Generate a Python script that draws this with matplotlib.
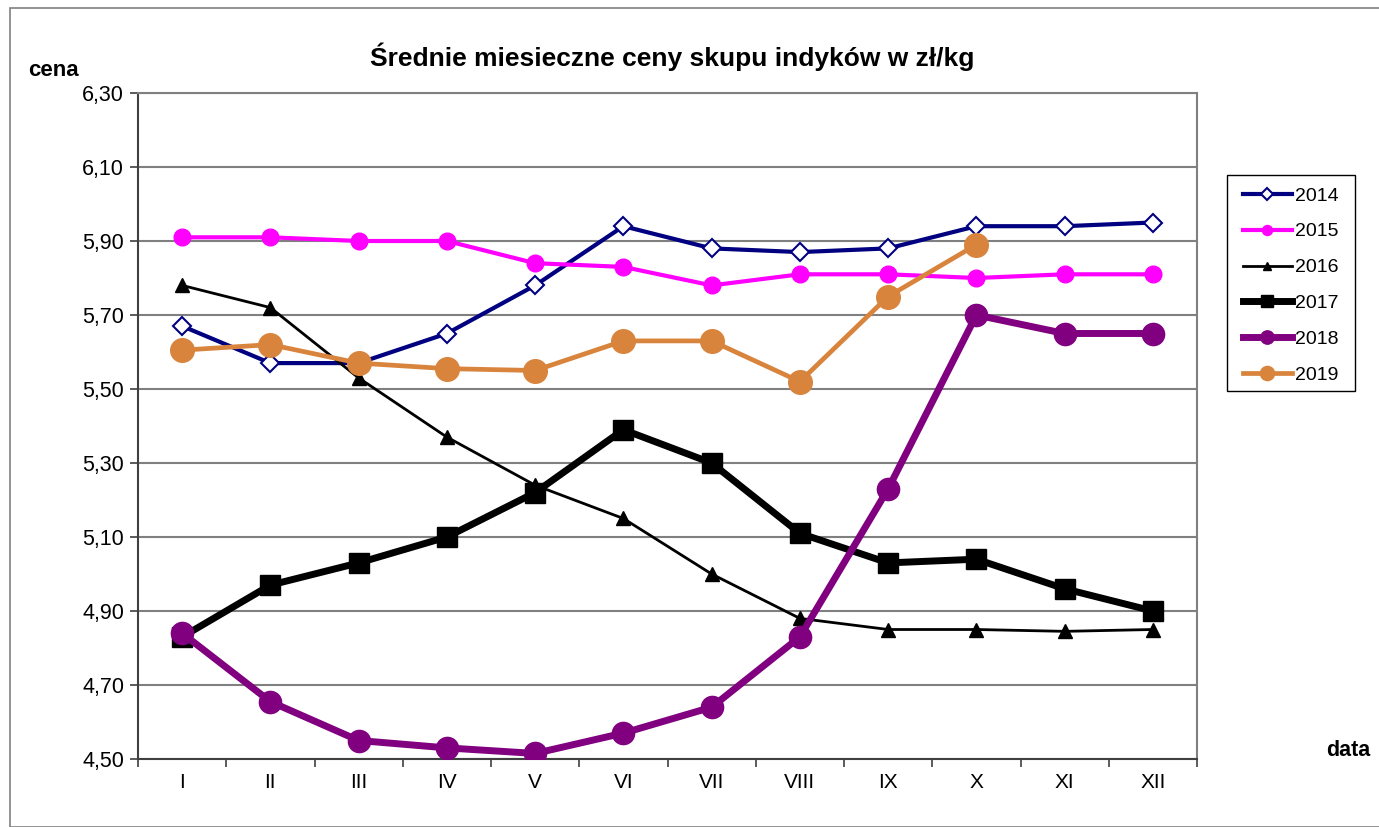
import matplotlib.pyplot as plt
import matplotlib.patches as patches
import numpy as np

plt.rcParams['font.family'] = ['Liberation Sans', 'DejaVu Sans']

miesiace = ['I', 'II', 'III', 'IV', 'V', 'VI', 'VII', 'VIII', 'IX', 'X', 'XI', 'XII']
c2014 = [5.67, 5.57, 5.57, 5.65, 5.78, 5.94, 5.88, 5.87, 5.88, 5.94, 5.94, 5.95]
c2015 = [5.91, 5.91, 5.90, 5.90, 5.84, 5.83, 5.78, 5.81, 5.81, 5.80, 5.81, 5.81]
c2016 = [5.78, 5.72, 5.53, 5.37, 5.24, 5.15, 5.00, 4.88, 4.85, 4.85, 4.845, 4.85]
c2017 = [4.83, 4.97, 5.03, 5.10, 5.22, 5.39, 5.30, 5.11, 5.03, 5.04, 4.96, 4.90]
c2018 = [4.84, 4.655, 4.55, 4.53, 4.515, 4.57, 4.64, 4.83, 5.23, 5.70, 5.65, 5.65]
c2019 = [5.605, 5.62, 5.57, 5.555, 5.55, 5.63, 5.63, 5.52, 5.75, 5.89]
y_ticks = [4.50, 4.70, 4.90, 5.10, 5.30, 5.50, 5.70, 5.90, 6.10, 6.30]

W, H = 1379, 827
fig = plt.figure(figsize=(W/100, H/100), dpi=100)
# ramka wykresu
fig.patches.append(patches.Rectangle((10/W, 0.0), 1.0, 1 - 8/H, transform=fig.transFigure,
                                     fill=False, edgecolor='#808080', lw=1.2))
ax = fig.add_axes([138/W, 1 - 759/H, (1197 - 138)/W, (759 - 93)/H])

x = np.arange(len(miesiace))
ax.plot(x, c2014, color='#000080', lw=3, marker='D', ms=9.5, mfc='white', mec='#000080', mew=1.5, label='2014', zorder=3)
ax.plot(x, c2015, color='#FF00FF', lw=3, marker='o', ms=12, mfc='#FF00FF', mec='#FF00FF', label='2015', zorder=3)
ax.plot(x, c2016, color='black', lw=2, marker='^', ms=10, label='2016', zorder=3)
ax.plot(x, c2017, color='black', lw=5, marker='s', ms=14.5, label='2017', zorder=3)
ax.plot(x, c2018, color='#800080', lw=5, marker='o', ms=16, label='2018', zorder=3)
ax.plot(x[:len(c2019)], c2019, color='#D9843D', lw=3.4, marker='o', ms=17, label='2019', zorder=3)

ax.set_xlim(-0.5, 11.5)
ax.set_ylim(4.5, 6.3)
ax.set_yticks(y_ticks)
ax.set_yticklabels([('%.2f' % v).replace('.', ',') for v in y_ticks], fontsize=15.5)
ax.set_xticks(x)
ax.set_xticklabels(miesiace, fontsize=15)
ax.set_xticks(np.arange(-0.5, 12, 1), minor=True)
ax.tick_params(axis='x', which='major', length=0, pad=10)
ax.tick_params(axis='x', which='minor', length=6, width=1.2, color='#404040')
ax.tick_params(axis='y', length=6, width=1.2, color='#404040', pad=4)
ax.grid(axis='y', color='#808080', lw=1.5)
ax.set_axisbelow(True)
for s in ['left', 'bottom']:
    ax.spines[s].set_color('#404040')
    ax.spines[s].set_linewidth(1.5)
for s in ['top', 'right']:
    ax.spines[s].set_color('#808080')
    ax.spines[s].set_linewidth(1.5)

fig.text(672/W, 1 - 57/H, 'Średnie miesieczne ceny skupu indyków w zł/kg', fontsize=19,
         fontweight='bold', ha='center', va='center')
fig.text(28/W, 1 - 70/H, 'cena', fontsize=16, fontweight='bold', ha='left', va='center')
fig.text(1370/W, 1 - 750/H, 'data', fontsize=15.5, fontweight='bold', ha='right', va='center')

# legenda z osobną ramką
fig.patches.append(patches.Rectangle((1227/W, 1 - 391/H), 128/W, 216/H, transform=fig.transFigure,
                                     fill=False, edgecolor='black', lw=1.0))
leg = fig.legend(loc='upper left', bbox_to_anchor=(1243/W, 1 - 187/H), fontsize=14,
                 frameon=False, handlelength=2.5, handletextpad=0.2, labelspacing=0.94,
                 borderpad=0, borderaxespad=0, markerscale=0.6)

fig.savefig('out.png', dpi=100)
